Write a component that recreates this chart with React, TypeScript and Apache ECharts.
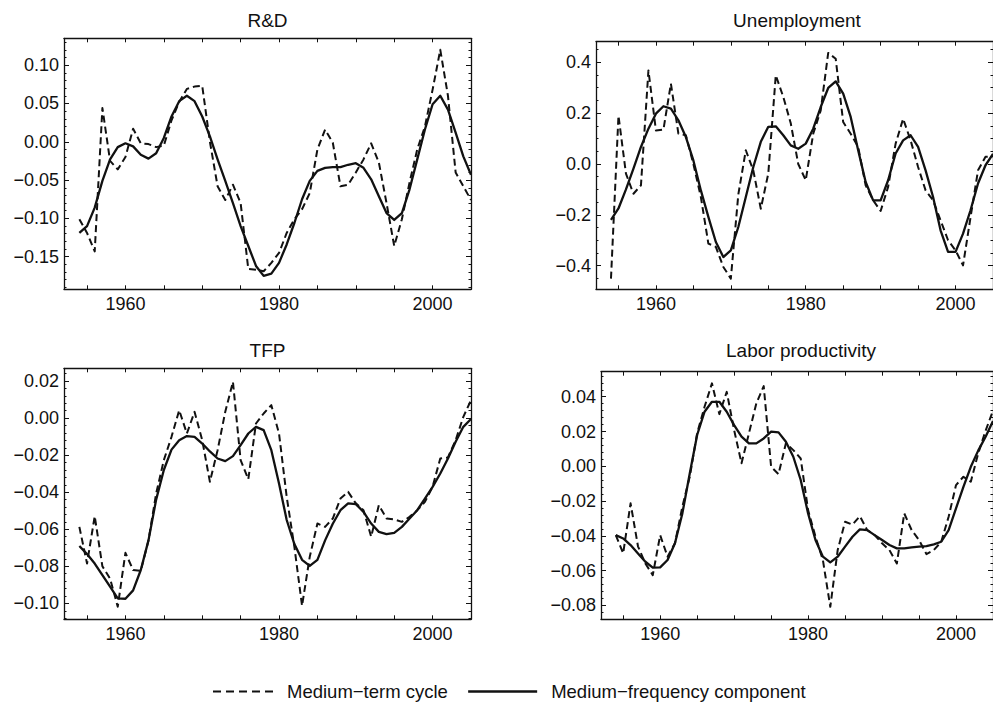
import { useEffect, useRef } from "react";
import * as echarts from "echarts";

// ---------- data (1954 – 2005) ----------
const years = [
  1954, 1955, 1956, 1957, 1958, 1959, 1960, 1961, 1962, 1963, 1964, 1965, 1966,
  1967, 1968, 1969, 1970, 1971, 1972, 1973, 1974, 1975, 1976, 1977, 1978, 1979,
  1980, 1981, 1982, 1983, 1984, 1985, 1986, 1987, 1988, 1989, 1990, 1991, 1992,
  1993, 1994, 1995, 1996, 1997, 1998, 1999, 2000, 2001, 2002, 2003, 2004, 2005,
];

const rdCycle = [
  -0.101, -0.119, -0.143, 0.044, -0.025, -0.036, -0.02, 0.017, -0.002, -0.003,
  -0.007, -0.005, 0.028, 0.052, 0.069, 0.072, 0.073, 0.0, -0.058, -0.076,
  -0.056, -0.08, -0.166, -0.167, -0.169, -0.158, -0.145, -0.119, -0.101, -0.088,
  -0.067, -0.01, 0.016, -0.001, -0.058, -0.056, -0.04, -0.023, -0.002, -0.027,
  -0.08, -0.136, -0.101, -0.053, -0.01, 0.02, 0.068, 0.12, 0.06, -0.04, -0.058,
  -0.076,
];
const rdComponent = [
  -0.119, -0.11, -0.086, -0.051, -0.023, -0.007, -0.002, -0.006, -0.017, -0.022,
  -0.015, 0.005, 0.033, 0.053, 0.06, 0.053, 0.033, 0.007, -0.023, -0.051, -0.08,
  -0.11, -0.136, -0.162, -0.175, -0.172, -0.158, -0.134, -0.106, -0.075, -0.051,
  -0.038, -0.034, -0.033, -0.033, -0.03, -0.028, -0.034, -0.049, -0.071, -0.093,
  -0.102, -0.093, -0.062, -0.023, 0.016, 0.049, 0.06, 0.042, 0.012, -0.019,
  -0.043,
];

const unCycle = [
  -0.451, 0.19, -0.038, -0.117, -0.084, 0.368, 0.132, 0.135, 0.316, 0.119,
  0.113, 0.0, -0.13, -0.313, -0.326, -0.405, -0.451, -0.12, 0.054, -0.025,
  -0.176, -0.038, 0.349, 0.264, 0.16, 0.0, -0.064, 0.119, 0.211, 0.437, 0.414,
  0.165, 0.119, 0.067, -0.084, -0.143, -0.185, -0.09, 0.08, 0.178, 0.093,
  -0.012, -0.104, -0.143, -0.222, -0.3, -0.34, -0.399, -0.21, -0.025, 0.028,
  0.03,
];
const unComponent = [
  -0.22, -0.175, -0.1, -0.018, 0.067, 0.139, 0.198, 0.227, 0.218, 0.172, 0.106,
  0.014, -0.104, -0.208, -0.307, -0.366, -0.34, -0.248, -0.13, -0.012, 0.087,
  0.146, 0.148, 0.113, 0.073, 0.06, 0.08, 0.139, 0.224, 0.299, 0.325, 0.277,
  0.185, 0.054, -0.071, -0.143, -0.143, -0.064, 0.041, 0.093, 0.113, 0.067,
  -0.025, -0.13, -0.261, -0.346, -0.346, -0.274, -0.182, -0.077, -0.005, 0.04,
];

const tfpCycle = [
  -0.0587, -0.0785, -0.0529, -0.08, -0.0866, -0.1018, -0.0727, -0.082, -0.0824,
  -0.066, -0.0407, -0.0227, -0.0101, 0.0043, -0.0083, 0.0034, -0.0119, -0.0344,
  -0.0173, 0.0034, 0.0196, -0.0227, -0.033, -0.0029, 0.0025, 0.007, -0.0083,
  -0.0425, -0.0695, -0.1013, -0.0749, -0.0569, -0.0587, -0.0542, -0.0434,
  -0.0398, -0.046, -0.0497, -0.064, -0.047, -0.0542, -0.0547, -0.056, -0.0533,
  -0.0497, -0.0452, -0.037, -0.0218, -0.0212, -0.0119, 0.0007, 0.0097,
];
const tfpComponent = [
  -0.069, -0.0734, -0.0785, -0.0848, -0.091, -0.0973, -0.0975, -0.093, -0.082,
  -0.066, -0.044, -0.028, -0.017, -0.0119, -0.0097, -0.0101, -0.0137, -0.018,
  -0.0218, -0.0232, -0.0205, -0.0146, -0.0083, -0.0047, -0.0065, -0.0173,
  -0.0353, -0.055, -0.068, -0.0765, -0.0798, -0.0765, -0.066, -0.057, -0.0497,
  -0.046, -0.0464, -0.0506, -0.0569, -0.0614, -0.0626, -0.0619, -0.0587,
  -0.0542, -0.0497, -0.0434, -0.0371, -0.0299, -0.0218, -0.0128, -0.0047,
  -0.0005,
];

const lpCycle = [
  -0.0396, -0.05, -0.0213, -0.046, -0.0559, -0.0626, -0.0396, -0.052, -0.0443,
  -0.0232, -0.006, 0.019, 0.0342, 0.0477, 0.03, 0.0428, 0.0208, 0.0017, 0.0189,
  0.0362, 0.0461, -0.0003, -0.0045, 0.0132, 0.0093, 0.0045, -0.0252, -0.0405,
  -0.0539, -0.0808, -0.0482, -0.0319, -0.0335, -0.0287, -0.0367, -0.0396,
  -0.0443, -0.0482, -0.0559, -0.0271, -0.0367, -0.0424, -0.0505, -0.0482,
  -0.0434, -0.029, -0.0108, -0.006, -0.0089, 0.0074, 0.0205, 0.032,
];
const lpComponent = [
  -0.0396, -0.0415, -0.0453, -0.0501, -0.0549, -0.0583, -0.0581, -0.0539,
  -0.0443, -0.0271, -0.0041, 0.018, 0.0314, 0.0371, 0.0371, 0.0314, 0.0237,
  0.017, 0.0132, 0.0132, 0.016, 0.0199, 0.0195, 0.0141, 0.0055, -0.0079,
  -0.0271, -0.0424, -0.052, -0.0553, -0.052, -0.0462, -0.0405, -0.0363,
  -0.0367, -0.0396, -0.0424, -0.0453, -0.0472, -0.0472, -0.0466, -0.0462,
  -0.0459, -0.0449, -0.0434, -0.0367, -0.0242, -0.0118, -0.0003, 0.009, 0.017,
  0.026,
];

// ---------- ticks / labels ----------
const xTickYears = [1955, 1960, 1965, 1970, 1975, 1980, 1985, 1990, 1995, 2000];
const xLabelYears = [1960, 1980, 2000];
const rdTicks = [-0.15, -0.1, -0.05, 0, 0.05, 0.1];
const unTicks = [-0.4, -0.2, 0, 0.2, 0.4];
const tfpTicks = [-0.1, -0.08, -0.06, -0.04, -0.02, 0, 0.02];
const lpTicks = [-0.08, -0.06, -0.04, -0.02, 0, 0.02, 0.04];

const CYCLE = "Medium\u2212term cycle";
const COMP = "Medium\u2212frequency component";

const INK = "#111";
const FONT = "'Liberation Sans', Arial, Helvetica, sans-serif";

const panels = [
  {
    title: "R&D", cycle: rdCycle, comp: rdComponent, ticks: rdTicks,
    minorStep: 0.01, decimals: 2, yMin: -0.1925, yMax: 0.135,
    grid: { left: 64, top: 38.3, width: 407, height: 251 }, titleY: 20.7,
  },
  {
    title: "Unemployment", cycle: unCycle, comp: unComponent, ticks: unTicks,
    minorStep: 0.05, decimals: 1, yMin: -0.493, yMax: 0.481,
    grid: { left: 596, top: 41.7, width: 402, height: 247.6 }, titleY: 20.7,
  },
  {
    title: "TFP", cycle: tfpCycle, comp: tfpComponent, ticks: tfpTicks,
    minorStep: 0.004, decimals: 2, yMin: -0.1086, yMax: 0.0269,
    grid: { left: 64, top: 368.3, width: 407, height: 251 }, titleY: 350.7,
  },
  {
    title: "Labor productivity", cycle: lpCycle, comp: lpComponent, ticks: lpTicks,
    minorStep: 0.004, decimals: 2, yMin: -0.088, yMax: 0.0544,
    grid: { left: 601, top: 371.7, width: 400, height: 247.6 }, titleY: 350.7,
  },
];

function minorTicks(min: number, max: number, step: number, majors: number[]) {
  const out: number[] = [];
  const k0 = Math.ceil(min / step - 1e-9);
  const k1 = Math.floor(max / step + 1e-9);
  for (let k = k0; k <= k1; k++) {
    const v = Math.round(k * step * 1e6) / 1e6;
    if (majors.some((m) => Math.abs(m - v) < step / 10)) continue;
    out.push(v);
  }
  return out;
}

function fmt(decimals: number) {
  return (v: number) => (v < 0 ? "\u2212" : "") + Math.abs(v).toFixed(decimals);
}

function buildOption() {
  const grid: any[] = [];
  const xAxis: any[] = [];
  const yAxis: any[] = [];
  const series: any[] = [];
  const graphic: any[] = [];

  const lineAx = { show: true, onZero: false, lineStyle: { color: INK, width: 1.3 } };
  const labelStyle = { color: INK, fontSize: 18, fontFamily: FONT };

  panels.forEach((p, i) => {
    grid.push({ ...p.grid, containLabel: false });
    const xb = xAxis.length;
    ["bottom", "top"].forEach((pos) => {
      xAxis.push({
        type: "value", gridIndex: i, position: pos, min: 1952, max: 2005,
        axisLine: lineAx,
        axisTick: {
          show: true, inside: true, length: 4, customValues: xTickYears,
          lineStyle: { color: INK, width: 1 },
        },
        axisLabel: pos === "bottom"
          ? { show: true, customValues: xLabelYears, margin: 6, ...labelStyle, formatter: (v: number) => String(v) }
          : { show: false },
        splitLine: { show: false },
      });
    });
    const yl = yAxis.length;
    const minors = minorTicks(p.yMin, p.yMax, p.minorStep, p.ticks);
    ["left", "right"].forEach((pos) => {
      yAxis.push({
        type: "value", gridIndex: i, position: pos, min: p.yMin, max: p.yMax,
        axisLine: lineAx,
        axisTick: {
          show: true, inside: true, length: 5, customValues: p.ticks,
          lineStyle: { color: INK, width: 1 },
        },
        axisLabel: pos === "left"
          ? { show: true, customValues: p.ticks, margin: 5, ...labelStyle, formatter: fmt(p.decimals) }
          : { show: false },
        splitLine: { show: false },
      });
      yAxis.push({
        type: "value", gridIndex: i, position: pos, min: p.yMin, max: p.yMax,
        axisLine: { show: false, onZero: false },
        axisTick: {
          show: true, inside: true, length: 2.5, customValues: minors,
          lineStyle: { color: INK, width: 1 },
        },
        axisLabel: { show: false },
        splitLine: { show: false },
      });
    });

    series.push({
      type: "line", name: CYCLE, xAxisIndex: xb, yAxisIndex: yl,
      data: years.map((y, k) => [y, p.cycle[k]]),
      symbol: "none", clip: true,
      lineStyle: { color: INK, width: 2, type: [7, 4], cap: "butt", join: "round" },
      itemStyle: { color: INK },
    });
    series.push({
      type: "line", name: COMP, xAxisIndex: xb, yAxisIndex: yl,
      data: years.map((y, k) => [y, p.comp[k]]),
      symbol: "none", clip: true,
      lineStyle: { color: INK, width: 2.3, type: "solid", join: "round" },
      itemStyle: { color: INK },
    });

    graphic.push({
      type: "text",
      x: p.grid.left + p.grid.width / 2,
      y: p.titleY,
      style: {
        text: p.title, fill: INK, font: `19px ${FONT}`,
        textAlign: "center", textVerticalAlign: "middle",
      },
    });
  });

  const legendText = {
    color: INK, fontSize: 18.5, fontFamily: FONT, lineHeight: 19, padding: [0, 0, 0, 9],
  };

  return {
    animation: false,
    backgroundColor: "#ffffff",
    grid, xAxis, yAxis, series, graphic,
    legend: [
      {
        data: [CYCLE], left: 212, top: 682, padding: 0, itemWidth: 60, itemHeight: 18,
        selectedMode: false, textStyle: legendText,
        itemStyle: { opacity: 0 },
        lineStyle: { type: [8, 5], width: 2, cap: "butt" },
      },
      {
        data: [COMP], left: 467, top: 682, padding: 0, itemWidth: 69, itemHeight: 18,
        selectedMode: false, textStyle: legendText,
        itemStyle: { opacity: 0 },
        lineStyle: { width: 2.3 },
      },
    ],
  };
}

export default function App() {
  const ref = useRef<HTMLDivElement>(null);
  useEffect(() => {
    if (!ref.current) return;
    const chart = echarts.init(ref.current, undefined, { renderer: "svg" });
    chart.setOption(buildOption() as any);
    return () => chart.dispose();
  }, []);
  return (
    <div
      ref={ref}
      style={{ position: "fixed", left: 0, top: 0, width: 993, height: 703, background: "#fff" }}
    />
  );
}
